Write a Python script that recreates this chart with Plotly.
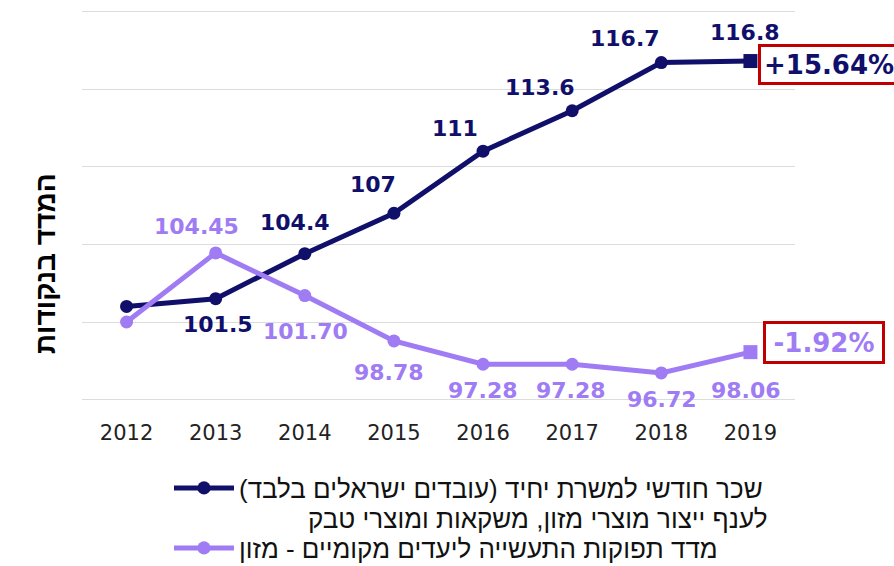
import plotly.graph_objects as go

years = ["2012", "2013", "2014", "2015", "2016", "2017", "2018", "2019"]
wage = [101, 101.5, 104.4, 107, 111, 113.6, 116.7, 116.8]
output_idx = [100, 104.45, 101.70, 98.78, 97.28, 97.28, 96.72, 98.06]
wage_labels = ["", "101.5", "104.4", "107", "111", "113.6", "116.7", "116.8"]
output_labels = ["", "104.45", "101.70", "98.78", "97.28", "97.28", "96.72", "98.06"]
wage_name = "שכר חודשי למשרת יחיד (עובדים ישראלים בלבד)\u200f"
wage_name_line2 = "לענף ייצור מוצרי מזון, משקאות ומוצרי טבק"
output_name = "מדד תפוקות התעשייה ליעדים מקומיים - מזון"
wage_change = "+15.64%"
output_change = "-1.92%"
y_title = "המדד בנקודות"

NAVY = "#10106B"
PURPLE = "#A07CF4"
RED = "#C00000"

# label offsets (px) relative to each point
wage_off = [(0, 0), (2, -26), (-10, 31), (-21, 29), (-28, 23), (-32, 23), (-36, 24), (-5, 29)]
out_off = [(0, 0), (-19, 26), (1, -36), (-5, -32), (0, -26), (-1, -26), (1, -27), (-4, -38)]

symbols = ["circle"] * (len(years) - 1) + ["square"]
sizes = [13] * (len(years) - 1) + [14]

fig = go.Figure()
fig.add_trace(go.Scatter(x=years, y=wage, mode="lines+markers", name=wage_name,
                         line=dict(color=NAVY, width=5), legend="legend",
                         marker=dict(color=NAVY, size=sizes, symbol=symbols, opacity=1,
                                     line=dict(width=0))))
fig.add_trace(go.Scatter(x=years, y=output_idx, mode="lines+markers", name=output_name,
                         line=dict(color=PURPLE, width=5), legend="legend2",
                         marker=dict(color=PURPLE, size=sizes, symbol=symbols, opacity=1,
                                     line=dict(width=0))))

annotations = []
for ys, labs, offs, col in [(wage, wage_labels, wage_off, NAVY),
                            (output_idx, output_labels, out_off, PURPLE)]:
    for i, (y, t, (dx, dy)) in enumerate(zip(ys, labs, offs)):
        if not t:
            continue
        annotations.append(dict(x=i, y=y, xref="x", yref="y", text=t, showarrow=False,
                                xanchor="center", yanchor="middle", xshift=dx, yshift=dy,
                                font=dict(family="DejaVu Sans", size=22, color=col, weight="bold")))

last = len(years) - 1
annotations.append(dict(x=last, y=wage[-1], xref="x", yref="y", text=wage_change,
                        showarrow=False, xanchor="left", yanchor="middle", xshift=8, yshift=-3,
                        font=dict(family="DejaVu Sans", size=26, color=NAVY, weight="bold"),
                        bgcolor="white", bordercolor=RED, borderwidth=3, borderpad=3,
                        width=140, height=29, align="left"))
annotations.append(dict(x=last, y=output_idx[-1], xref="x", yref="y", text=output_change,
                        showarrow=False, xanchor="left", yanchor="middle", xshift=13, yshift=10,
                        font=dict(family="DejaVu Sans", size=26, color=PURPLE, weight="bold"),
                        bgcolor="white", bordercolor=RED, borderwidth=3, borderpad=3,
                        width=110, height=31, align="center"))
annotations.append(dict(x=-0.0505, y=0.3537, xref="paper", yref="paper", text=y_title,
                        showarrow=False, textangle=-90, xanchor="center", yanchor="middle",
                        font=dict(family="Liberation Sans", size=28, color="black", weight="bold")))
annotations.append(dict(x=0.965, y=-0.2977, xref="paper", yref="paper", text=wage_name_line2,
                        showarrow=False, xanchor="right", yanchor="middle",
                        font=dict(family="Liberation Sans", size=26, color="#111")))

legend_font = dict(family="Liberation Sans", size=26, color="#111")
fig.update_layout(
    width=894, height=566,
    margin=dict(l=82, r=99, t=9, b=164, autoexpand=False),
    paper_bgcolor="white", plot_bgcolor="white",
    showlegend=True,
    legend=dict(x=0.122, y=-0.2188, xanchor="left", yanchor="middle", itemwidth=60,
                font=legend_font, bgcolor="rgba(0,0,0,0)"),
    legend2=dict(x=0.122, y=-0.3715, xanchor="left", yanchor="middle", itemwidth=60,
                 font=legend_font, bgcolor="rgba(0,0,0,0)"),
    annotations=annotations,
    xaxis=dict(type="category", range=[-0.5, 7.5], showgrid=False, zeroline=False,
               showline=False, ticks="", ticklabelstandoff=16,
               tickfont=dict(family="DejaVu Sans", size=21, color="#222")),
    yaxis=dict(range=[94.85, 120.15], dtick=5, tick0=95, showticklabels=False,
               showgrid=True, gridcolor="#DCDCDC", gridwidth=1.3, zeroline=False, showline=False),
)

fig.write_html("out.html", config={"displayModeBar": False},
               post_script="document.body.style.margin='0px';")
